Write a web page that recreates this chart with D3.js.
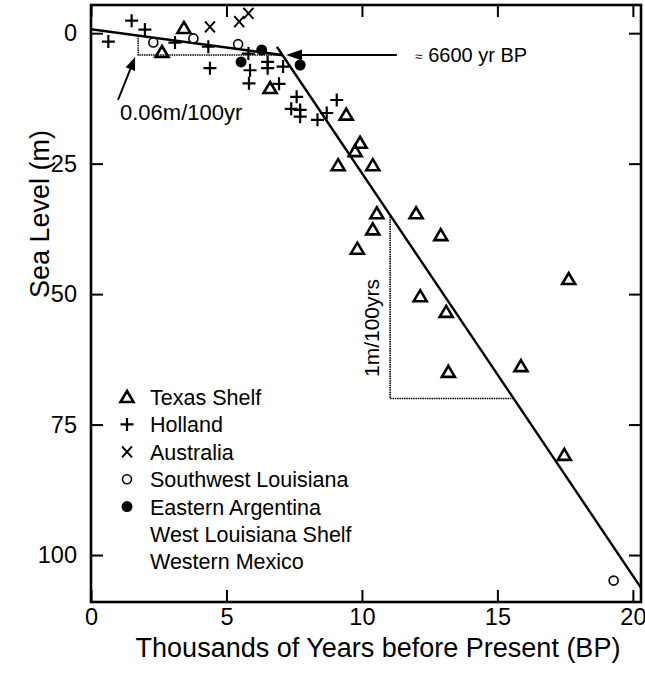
<!DOCTYPE html>
<html><head><meta charset="utf-8">
<script src="https://cdn.jsdelivr.net/npm/d3@7"></script>
<style>body{margin:0;background:#fff}svg{display:block}</style>
</head><body>
<svg id="chart" width="645" height="678"></svg>
<script>
// ---------- data (thousands of years BP, sea level m below present) ----------
const xTickValues = [0, 5, 10, 15, 20];
const yTickValues = [0, 25, 50, 75, 100];

const texasShelf = [[3.43,-1.0],[2.62,3.6],[6.61,10.5],[9.42,15.6],[9.93,21.0],[9.75,22.6],
  [9.12,25.3],[10.4,25.3],[10.55,34.5],[12.0,34.5],[10.4,37.6],[12.91,38.7],[9.83,41.3],
  [17.63,47.1],[12.15,50.4],[13.11,53.4],[15.87,63.8],[13.19,64.9],[17.47,80.8]];
const holland = [[1.5,-2.4],[1.99,-0.7],[0.64,1.6],[3.1,1.8],[4.33,2.6],[4.39,6.7],[5.81,3.9],
  [5.87,7.1],[5.83,9.6],[6.52,5.5],[6.52,6.7],[6.94,9.7],[7.09,6.4],[7.59,12.2],[7.39,14.5],
  [7.72,14.7],[7.72,16.0],[8.36,16.6],[8.7,15.3],[9.07,12.8]];
const australia = [[4.39,-1.2],[5.47,-2.2],[5.81,-3.8]];
const swLouisiana = [[2.3,1.8],[3.78,1.0],[5.43,2.1],[19.29,104.9]];
const eArgentina = [[5.54,5.5],[6.3,3.2],[7.72,6.1]];

const legendLabels = ["Texas Shelf","Holland","Australia","Southwest Louisiana","Eastern Argentina","West Louisiana Shelf","Western Mexico"];
const legendSymbols = ["tri","plus","x","open","filled",null,null];

const mainTrend = [[6.86,2.6],[20.6,108.6]];
const holoceneTrend = [[0,-0.75],[7.07,4.2]];
const holoceneSlopeBox = [[1.74,0.47],[1.74,4.2],[7.07,4.2]];
const glacialSlopeBox = [[11.04,35.2],[11.04,70.0],[15.59,70.0]];
const markerArrow = [[11.29,4.2],[7.2,4.2]];

// ---------- layout ----------
const FONT = "'Liberation Sans', Arial, Helvetica, sans-serif";
const svg = d3.select("#chart");
const L = 91, R = 641, T = 5, B = 602;
const x = d3.scaleLinear().domain([0, 20.3]).range([L, R]);
const y = d3.scaleLinear().domain([-5.4, 109]).range([T, B]);

svg.append("defs").append("clipPath").attr("id","plotclip")
  .append("rect").attr("x",L).attr("y",T).attr("width",R-L).attr("height",B-T);

const markers = {
  tri: "M0,-6L6.5,5L-6.5,5Z",
  plus: "M-6.5,0H6.5M0,-6.5V6.5",
  x: "M-5,-5.5L5,5.5M5,-5.5L-5,5.5"
};
function drawMarker(g, type){
  if(type==="tri") g.append("path").attr("d",markers.tri).attr("fill","none").attr("stroke","#000").attr("stroke-width",2.6).attr("stroke-linejoin","miter");
  else if(type==="plus") g.append("path").attr("d",markers.plus).attr("fill","none").attr("stroke","#000").attr("stroke-width",2.2);
  else if(type==="x") g.append("path").attr("d",markers.x).attr("fill","none").attr("stroke","#000").attr("stroke-width",1.9);
  else if(type==="open") g.append("circle").attr("r",4.5).attr("fill","#fff").attr("stroke","#000").attr("stroke-width",1.6);
  else if(type==="filled") g.append("circle").attr("r",5.5).attr("fill","#000");
}

// ---------- frame & ticks ----------
const axisG = svg.append("g");
axisG.append("rect").attr("x",L).attr("y",T).attr("width",R-L).attr("height",B-T)
  .attr("fill","none").attr("stroke","#000").attr("stroke-width",2.6);

const tickLen = 12;
const bottomAxis = d3.axisBottom(x).tickValues(xTickValues).tickSize(-tickLen).tickPadding(6).tickFormat(d3.format("d"));
const topAxis = d3.axisTop(x).tickValues(xTickValues).tickSize(-tickLen).tickFormat("");
const leftAxis = d3.axisLeft(y).tickValues(yTickValues).tickSize(-tickLen).tickPadding(14).tickFormat(d3.format("d"));
const rightAxis = d3.axisRight(y).tickValues(yTickValues).tickSize(-tickLen).tickFormat("");

function styleAxis(g){
  g.select(".domain").remove();
  g.selectAll(".tick line").attr("stroke","#000").attr("stroke-width",2);
  g.selectAll(".tick text").attr("fill","#000").style("font-family",FONT).style("font-size","23.5px");
}
svg.append("g").attr("transform",`translate(0,${B})`).call(bottomAxis).call(styleAxis);
svg.append("g").attr("transform",`translate(0,${T})`).call(topAxis).call(styleAxis);
svg.append("g").attr("transform",`translate(${L},0)`).call(leftAxis).call(styleAxis);
svg.append("g").attr("transform",`translate(${R},0)`).call(rightAxis).call(styleAxis);

// axis titles
svg.append("text").attr("x",378).attr("y",657).attr("text-anchor","middle")
  .style("font-family",FONT).style("font-size","27px").text("Thousands of Years before Present (BP)");
svg.append("text").attr("transform",`translate(49,214) rotate(-90)`).attr("text-anchor","middle")
  .style("font-family",FONT).style("font-size","27px").text("Sea Level (m)");

// ---------- lines & annotations ----------
const plot = svg.append("g").attr("clip-path","url(#plotclip)");
const line = d3.line().x(d=>x(d[0])).y(d=>y(d[1]));
plot.append("path").datum(mainTrend).attr("d",line).attr("fill","none").attr("stroke","#000").attr("stroke-width",2.4);
plot.append("path").datum(holoceneTrend).attr("d",line).attr("fill","none").attr("stroke","#000").attr("stroke-width",2.6);
plot.append("path").datum(holoceneSlopeBox).attr("d",line).attr("fill","none").attr("stroke","#000").attr("stroke-width",1.5).attr("stroke-dasharray","1.5,0.8");
plot.append("path").datum(glacialSlopeBox).attr("d",line).attr("fill","none").attr("stroke","#000").attr("stroke-width",1.6).attr("stroke-dasharray","1.5,0.8");

// arrow to 6600 yr BP
const ax0 = x(markerArrow[0][0]), ax1 = x(markerArrow[1][0]), ay = y(markerArrow[0][1]);
plot.append("line").attr("x1",ax0).attr("x2",ax1+12).attr("y1",ay).attr("y2",ay).attr("stroke","#000").attr("stroke-width",2);
plot.append("path").attr("d",`M${ax1},${ay}L${ax1+16},${ay-5.5}L${ax1+16},${ay+5.5}Z`).attr("fill","#000");
const t6600 = svg.append("text").attr("x",415).attr("y",ay+7).style("font-family",FONT).style("font-size","20px");
t6600.append("tspan").style("font-size","13px").attr("dy","-1").text("≈");
t6600.append("tspan").attr("dx","6").attr("dy","1").text("6600 yr BP");

// arrow to 0.06 m/100yr box
const bx = x(holoceneSlopeBox[1][0]) - 3, by = y(holoceneSlopeBox[1][1]) + 2;
const tx = 118, ty = 100;
const ang = Math.atan2(by-ty, bx-tx);
const hl = 13, hw = 5;
const baseX = bx - hl*Math.cos(ang), baseY = by - hl*Math.sin(ang);
svg.append("line").attr("x1",tx).attr("y1",ty).attr("x2",baseX).attr("y2",baseY).attr("stroke","#000").attr("stroke-width",2);
svg.append("path").attr("d",`M${bx},${by}L${baseX - hw*Math.sin(ang)},${baseY + hw*Math.cos(ang)}L${baseX + hw*Math.sin(ang)},${baseY - hw*Math.cos(ang)}Z`).attr("fill","#000");
svg.append("text").attr("x",120).attr("y",120).style("font-family",FONT).style("font-size","22px").text("0.06m/100yr");

// 1m/100yrs label
svg.append("text").attr("transform",`translate(379,328) rotate(-90)`).attr("text-anchor","middle")
  .style("font-family",FONT).style("font-size","21px").text("1m/100yrs");

// ---------- points ----------
function drawSeries(data, type){
  plot.append("g").selectAll("g").data(data).join("g")
    .attr("transform",d=>`translate(${x(d[0])},${y(d[1])})`)
    .each(function(){ drawMarker(d3.select(this), type); });
}
drawSeries(holland,"plus");
drawSeries(australia,"x");
drawSeries(swLouisiana,"open");
drawSeries(eArgentina,"filled");
drawSeries(texasShelf,"tri");

// ---------- legend ----------
const lg = svg.append("g");
legendLabels.forEach((lab,i)=>{
  const ly = 397 + i*27.4;
  if(legendSymbols[i]){
    const g = lg.append("g").attr("transform",`translate(127,${ly})`);
    drawMarker(g, legendSymbols[i]);
  }
  lg.append("text").attr("x",150).attr("y",ly+8).style("font-family",FONT).style("font-size","21.5px").text(lab);
});
</script>
</body></html>
